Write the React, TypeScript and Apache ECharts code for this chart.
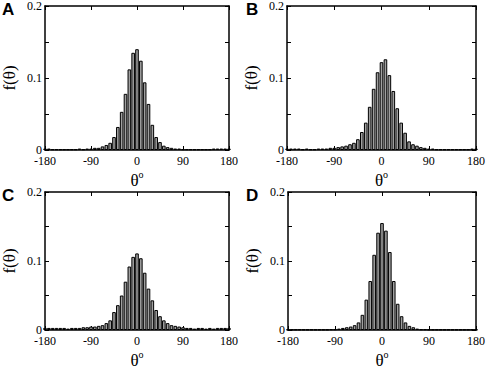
import React, { useEffect, useRef } from "react";
import * as echarts from "echarts";

// bin centres (degrees), 7.5° bins
const binCenters: number[] = [
  -180, -172.5, -165, -157.5, -150, -142.5, -135, -127.5, -120, -112.5, -105, -97.5,
  -90, -82.5, -75, -67.5, -60, -52.5, -45, -37.5, -30, -22.5, -15, -7.5,
  0, 7.5, 15, 22.5, 30, 37.5, 45, 52.5, 60, 67.5, 75, 82.5,
  90, 97.5, 105, 112.5, 120, 127.5, 135, 142.5, 150, 157.5, 165, 172.5, 180,
];

const panelLabels: string[] = ["A", "B", "C", "D"];
const xTicks: number[] = [-180, -90, 0, 90, 180];
const yTickLabels: string[] = ["0", "0.1", "0.2"];

const valuesA: number[] = [
  0.002, 0.002, 0.001, 0.001, 0.001, 0.001, 0.001, 0.001, 0.001, 0.002, 0.001, 0.002,
  0.002, 0.003, 0.003, 0.005, 0.007, 0.010, 0.018, 0.032, 0.053, 0.078, 0.112, 0.135,
  0.140, 0.124, 0.094, 0.064, 0.035, 0.018, 0.011, 0.006, 0.004, 0.003, 0.002, 0.002,
  0.001, 0.001, 0.001, 0.001, 0.001, 0.001, 0.001, 0.001, 0.002, 0.002, 0.002, 0.002, 0.002,
];

const valuesB: number[] = [
  0.002, 0.002, 0.002, 0.002, 0.001, 0.002, 0.001, 0.001, 0.002, 0.002, 0.002, 0.003,
  0.003, 0.004, 0.005, 0.006, 0.008, 0.010, 0.015, 0.025, 0.038, 0.060, 0.085, 0.108,
  0.122, 0.126, 0.104, 0.082, 0.058, 0.038, 0.024, 0.012, 0.008, 0.006, 0.004, 0.003,
  0.002, 0.002, 0.001, 0.001, 0.001, 0.001, 0.001, 0.001, 0.001, 0.001, 0.001, 0.002, 0.002,
];

const valuesC: number[] = [
  0.003, 0.003, 0.003, 0.003, 0.003, 0.003, 0.002, 0.003, 0.003, 0.003, 0.004, 0.004,
  0.005, 0.005, 0.006, 0.007, 0.010, 0.014, 0.026, 0.036, 0.050, 0.070, 0.092, 0.106,
  0.111, 0.104, 0.083, 0.060, 0.043, 0.029, 0.020, 0.014, 0.010, 0.007, 0.006, 0.005,
  0.004, 0.003, 0.003, 0.002, 0.003, 0.003, 0.002, 0.003, 0.002, 0.003, 0.003, 0.003, 0.003,
];

const valuesD: number[] = [
  0.0006, 0.0006, 0.0006, 0.0006, 0.0006, 0.0006, 0.0006, 0.0006, 0.0006, 0.0006, 0.0006, 0.001,
  0.001, 0.002, 0.003, 0.004, 0.005, 0.007, 0.011, 0.022, 0.044, 0.071, 0.109, 0.141,
  0.155, 0.144, 0.113, 0.071, 0.038, 0.020, 0.011, 0.006, 0.004, 0.002, 0.001, 0.001,
  0.0006, 0.0006, 0.0006, 0.0006, 0.0006, 0.0006, 0.0006, 0.0006, 0.0006, 0.0006, 0.0006, 0.0006, 0.0006,
];

const panelValues: number[][] = [valuesA, valuesB, valuesC, valuesD];

const grids = [
  { left: 38, top: 6, width: 191, height: 144 },
  { left: 287, top: 6, width: 189, height: 144 },
  { left: 38, top: 192, width: 191, height: 146 },
  { left: 288, top: 192, width: 188, height: 146 },
];

const letterPos = [
  { x: 2, y: 1 },
  { x: 246, y: 1 },
  { x: 2, y: 187 },
  { x: 246, y: 187 },
];

const SERIF = "'Liberation Serif', 'DejaVu Serif', serif";
const SANS = "'Liberation Sans', Arial, sans-serif";

export default function App() {
  const ref = useRef<HTMLDivElement>(null);
  useEffect(() => {
    document.body.style.margin = "0";
    if (!ref.current) return;
    const chart = echarts.init(ref.current, undefined, { renderer: "svg" });
    const axisLine = { show: true, onZero: false, lineStyle: { color: "#000", width: 1.5 } };
    const tick = { show: true, inside: true, length: 4, lineStyle: { color: "#000", width: 1 } };
    const xAxes: any[] = [];
    const yAxes: any[] = [];
    const series: any[] = [];
    grids.forEach((g, i) => {
      xAxes.push({
        type: "value",
        gridIndex: i,
        position: "bottom",
        min: -180,
        max: 180,
        interval: 90,
        axisLine,
        axisTick: tick,
        splitLine: { show: false },
        axisLabel: {
          color: "#000",
          fontFamily: SERIF,
          fontSize: 12,
          lineHeight: 11,
          margin: 5,
          formatter: (v: number) => (xTicks.indexOf(v) >= 0 ? String(v) : ""),
        },
        name: "{t|θ}{s|o}",
        nameLocation: "middle",
        nameGap: 19,
        nameTextStyle: {
          rich: {
            t: { fontFamily: SERIF, fontSize: 17, lineHeight: 20, color: "#000", verticalAlign: "bottom" },
            s: { fontFamily: SERIF, fontSize: 10, lineHeight: 10, color: "#000", verticalAlign: "top" },
          },
        },
      });
      xAxes.push({
        type: "value",
        gridIndex: i,
        position: "top",
        min: -180,
        max: 180,
        interval: 90,
        axisLine,
        axisTick: tick,
        splitLine: { show: false },
        axisLabel: { show: false },
      });
      yAxes.push({
        type: "value",
        gridIndex: i,
        position: "left",
        min: 0,
        max: 0.2,
        interval: 0.05,
        axisLine,
        axisTick: tick,
        splitLine: { show: false },
        axisLabel: {
          color: "#000",
          fontFamily: SERIF,
          fontSize: 12,
          lineHeight: 11,
          margin: 3,
          formatter: (v: number) => {
            const r = Math.round(v * 100);
            return r % 10 === 0 ? yTickLabels[r / 10] : "";
          },
        },
        name: "f(θ)",
        nameLocation: "middle",
        nameGap: 27,
        nameRotate: 90,
        nameTextStyle: { fontFamily: SERIF, fontSize: 17, color: "#000" },
      });
      yAxes.push({
        type: "value",
        gridIndex: i,
        position: "right",
        min: 0,
        max: 0.2,
        interval: 0.05,
        axisLine,
        axisTick: tick,
        splitLine: { show: false },
        axisLabel: { show: false },
      });
      series.push({
        type: "bar",
        xAxisIndex: i * 2,
        yAxisIndex: i * 2,
        barWidth: 3.6,
        clip: true,
        itemStyle: { color: "#a0a0a0", borderColor: "#000", borderWidth: 1 },
        data: binCenters.map((c, k) => [c, panelValues[i][k]]),
      });
    });
    chart.setOption({
      animation: false,
      backgroundColor: "#fff",
      grid: grids.map((g) => ({ ...g, containLabel: false })),
      xAxis: xAxes,
      yAxis: yAxes,
      series,
      graphic: panelLabels.map((t, i) => ({
        type: "text",
        x: letterPos[i].x,
        y: letterPos[i].y,
        style: { text: t, font: `bold 17px ${SANS}`, fill: "#000" },
      })),
    });
    return () => chart.dispose();
  }, []);
  return <div ref={ref} style={{ width: 490, height: 370 }} />;
}
